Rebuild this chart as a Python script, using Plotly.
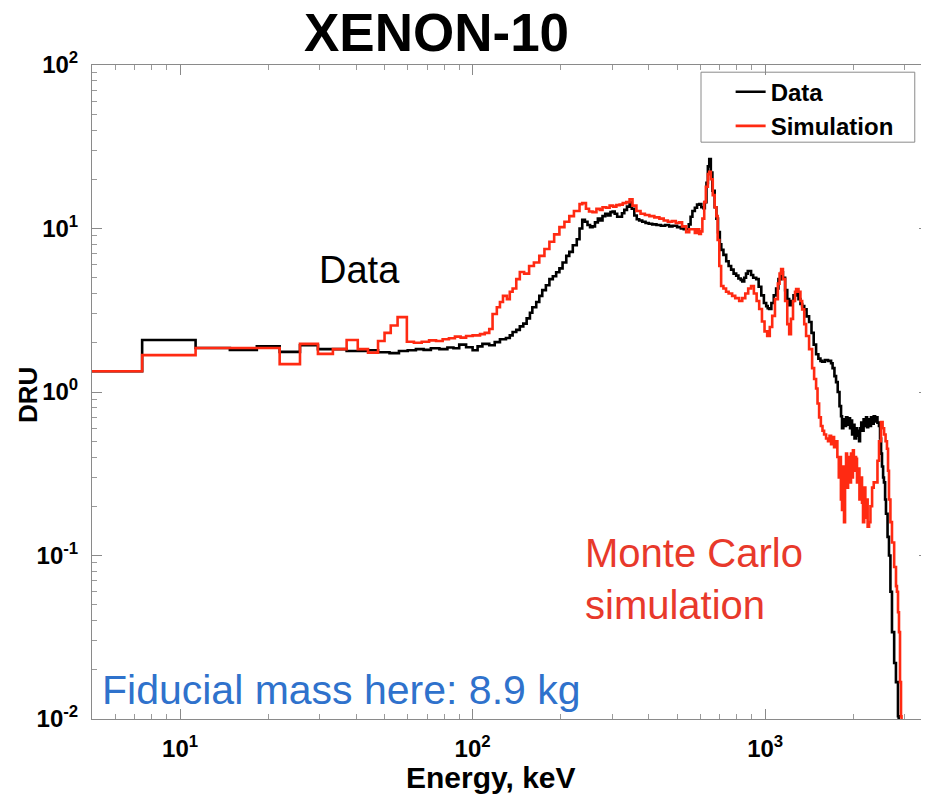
import plotly.graph_objects as go

# ---- Data (black) : energy [keV], rate [DRU] (step histogram) ----
data_energy = [5.0, 7.42, 11.3, 14.8, 18.3, 21.9, 25.7, 29.6, 37.1, 43.9, 47.5, 52, 56, 60, 64, 68, 72, 77, 82, 86,
               90, 95, 100, 104, 108, 114, 119, 124, 130, 134, 137, 141, 145, 149, 153, 157, 160, 165, 169, 173,
               178, 183, 188, 193, 198, 203, 209, 214, 220, 227, 232, 237, 242, 247, 252, 257, 262, 268, 273, 278,
               284, 290, 296, 301, 306, 312, 318, 324, 330, 337, 344, 350, 357, 364, 371, 380, 390, 400, 411, 425,
               440, 455, 470, 482, 500, 515, 527, 538, 548, 556, 564, 575, 585, 595, 605, 615, 622, 630, 637, 644,
               652, 660, 672, 681, 690, 700, 708, 720, 736, 750, 765, 780, 796, 810, 825, 835, 848, 860, 872, 882,
               895, 910, 932, 950, 970, 990, 1008, 1020, 1032, 1050, 1070, 1090, 1110, 1134, 1150, 1170, 1190, 1208,
               1230, 1250, 1276, 1300, 1320, 1338, 1360, 1385, 1413, 1440, 1465, 1493, 1520, 1545, 1565, 1600, 1640,
               1680, 1700, 1725, 1747, 1770, 1795, 1817, 1831, 1850, 1870, 1890, 1910, 1930, 1950, 1970, 1982, 2000,
               2020, 2045, 2060, 2080, 2094, 2110, 2130, 2150, 2170, 2190, 2212, 2230, 2250, 2275, 2300, 2325, 2350,
               2375, 2392, 2420, 2449, 2470, 2490, 2508, 2530, 2547, 2570, 2588, 2620, 2650, 2680, 2713, 2760, 2799,
               2844, 2860]
data_dru = [1.34, 2.08, 1.86, 1.81, 1.90, 1.76, 1.93, 1.83, 1.78, 1.80, 1.75, 1.73, 1.78, 1.80, 1.83, 1.81, 1.85, 1.83, 1.87, 1.85,
            1.95, 1.88, 1.80, 1.90, 1.97, 1.93, 2.02, 2.10, 2.14, 2.22, 2.33, 2.40, 2.52, 2.62, 2.82, 3.05, 3.30, 3.55, 3.87, 4.2,
            4.5, 4.9, 5.1, 5.4, 5.7, 6.2, 6.8, 7.2, 7.9, 8.6, 10.0, 11.3, 11.0, 10.5, 10.2, 10.3, 10.9, 11.5, 11.2, 11.9,
            12.3, 12.0, 12.6, 12.7, 12.3, 11.8, 11.8, 12.4, 13.0, 13.6, 14.4, 13.2, 12.0, 11.4, 11.2, 11.0, 10.8, 10.7, 10.6, 10.5,
            10.4, 10.5, 10.3, 10.4, 10.2, 10.0, 9.9, 9.9, 10.6, 11.8, 12.8, 13.4, 14.0, 14.1, 13.5, 13.3, 14.5, 19, 24, 26.6,
            22, 17, 13.5, 11.5, 9.5, 8.0, 7.4, 6.9, 6.3, 5.9, 5.6, 5.3, 5.15, 4.95, 4.85, 4.75, 5.0, 5.3, 5.5, 5.5,
            5.2, 5.0, 4.9, 4.4, 3.9, 3.5, 3.35, 3.25, 3.22, 3.5, 3.9, 4.3, 4.9, 5.4, 5.0, 4.2, 3.7, 3.4,
            3.6, 3.9, 4.05, 3.7, 3.45, 3.36, 3.2, 2.9, 2.68, 2.3, 1.95, 1.70, 1.60, 1.55, 1.53, 1.57, 1.55,
            1.50, 1.40, 1.25, 1.15, 1.0, 0.82, 0.71, 0.60, 0.68, 0.62, 0.70, 0.63, 0.69, 0.60, 0.67, 0.55, 0.63,
            0.52, 0.60, 0.54, 0.58, 0.50, 0.60, 0.65, 0.58, 0.68, 0.62, 0.70, 0.61, 0.68, 0.62, 0.70, 0.64, 0.71,
            0.66, 0.70, 0.65, 0.62, 0.52, 0.42, 0.35, 0.30, 0.28, 0.22, 0.18, 0.13, 0.10, 0.06, 0.034, 0.022, 0.0168,
            0.0104, 0.009]

# ---- Simulation (red) ----
sim_energy = [5.0, 7.42, 11.3, 21.9, 25.7, 29.6, 33.3, 37.1, 40.5, 43.9, 47.5, 50, 52.5, 55.4, 59.6, 63, 67, 71, 75, 79,
              83, 87, 91, 95, 100, 106, 110, 114, 117, 121, 124, 127, 131, 134, 137, 141, 145, 150, 156, 162,
              169, 176, 183, 190, 198, 206, 214, 222, 232, 237, 244, 250, 257, 265, 272, 278, 286, 294, 302, 310,
              318, 326, 335, 344, 352, 363, 375, 388, 402, 418, 435, 450, 465, 480, 495, 508, 520, 537, 550, 564,
              575, 585, 595, 603, 610, 619, 627, 637, 644, 652, 662, 672, 681, 688, 697, 707, 720, 735, 750, 771,
              790, 815, 835, 855, 875, 895, 915, 935, 954, 975, 995, 1016, 1037, 1057, 1080, 1105, 1120, 1134, 1150, 1170,
              1190, 1208, 1225, 1245, 1265, 1276, 1300, 1320, 1338, 1360, 1380, 1413, 1447, 1470, 1493, 1510, 1529, 1550,
              1570, 1590, 1615, 1640, 1660, 1680, 1700, 1720, 1747, 1765, 1785, 1800, 1815, 1831, 1845, 1860, 1875,
              1890, 1905, 1920, 1935, 1950, 1965, 1980, 1995, 2010, 2025, 2045, 2060, 2080, 2100, 2120, 2143, 2160,
              2180, 2200, 2220, 2240, 2265, 2290, 2320, 2350, 2392, 2420, 2450, 2488, 2520, 2550, 2580, 2608, 2630,
              2650, 2680, 2713, 2760, 2800, 2821, 2845, 2867, 2890, 2913, 2925]
sim_dru = [1.34, 1.68, 1.86, 1.48, 1.97, 1.71, 1.83, 2.08, 1.83, 1.74, 2.05, 2.30, 2.55, 2.87, 2.03, 2.00, 2.03, 2.07, 2.05, 2.10,
           2.13, 2.18, 2.15, 2.20, 2.22, 2.26, 2.30, 2.43, 3.0, 3.3, 3.55, 3.87, 3.7, 4.1, 4.3, 4.9, 5.42, 5.3, 5.9, 6.2,
           6.8, 7.5, 8.3, 9.2, 10.2, 11.0, 11.9, 12.8, 14.1, 14.3, 13.2, 12.7, 12.6, 13.2, 13.0, 13.5, 13.4, 13.8, 13.6, 13.9,
           14.0, 14.3, 14.5, 15.1, 13.8, 12.8, 12.3, 12.1, 11.9, 11.7, 11.5, 11.2, 11.0, 11.1, 10.8, 10.9, 10.3, 9.5, 9.9, 9.9,
           9.4, 9.9, 9.25, 9.6, 11.5, 14.5, 18, 21.5, 22.2, 20, 16, 13.5, 11.9, 8.5, 5.9, 4.45, 4.3, 4.1, 4.0, 3.87,
           3.75, 3.60, 3.75, 4.0, 4.3, 4.45, 4.0, 3.6, 3.22, 2.7, 2.35, 2.20, 2.5, 2.92, 3.7, 4.6, 5.3, 5.65, 4.9, 3.6,
           2.6, 2.26, 2.8, 3.6, 4.1, 4.27, 4.1, 3.6, 3.2, 2.6, 2.2, 1.83, 1.40, 1.2, 1.05, 0.85, 0.70, 0.62,
           0.58, 0.55, 0.52, 0.50, 0.54, 0.48, 0.53, 0.46, 0.50, 0.40, 0.30, 0.40, 0.22, 0.19, 0.35, 0.16, 0.30,
           0.42, 0.26, 0.40, 0.37, 0.28, 0.42, 0.30, 0.44, 0.33, 0.40, 0.39, 0.28, 0.34, 0.22, 0.30, 0.21, 0.16,
           0.26, 0.17, 0.22, 0.15, 0.16, 0.20, 0.26, 0.28, 0.28, 0.38, 0.50, 0.655, 0.60, 0.55, 0.50, 0.45, 0.33,
           0.22, 0.16, 0.12, 0.085, 0.065, 0.060, 0.045, 0.034, 0.0168, 0.0104, 0.009]

x_tickvals = [10, 100, 1000]
x_ticktext = ["10<sup>1</sup>", "10<sup>2</sup>", "10<sup>3</sup>"]
y_tickvals = [0.01, 0.1, 1, 10, 100]
y_ticktext = ["10<sup>-2</sup>", "10<sup>-1</sup>", "10<sup>0</sup>", "10<sup>1</sup>", "10<sup>2</sup>"]

RED = "#ff2a12"
NARROW = "Liberation Sans Narrow, Arial Narrow, Liberation Sans, Arial, sans-serif"
SANS = "Liberation Sans, Arial, Helvetica, sans-serif"
GRAY = "#8a8a8a"

fig = go.Figure()
fig.add_trace(go.Scatter(x=data_energy, y=data_dru, mode="lines", name="Data",
                         line=dict(color="black", width=2.6, shape="hv")))
fig.add_trace(go.Scatter(x=sim_energy, y=sim_dru, mode="lines", name="Simulation",
                         line=dict(color=RED, width=2.6, shape="hv")))

axis_common = dict(
    showline=True, linecolor=GRAY, linewidth=1, mirror="ticks",
    ticks="inside", ticklen=10, tickcolor=GRAY, tickwidth=1,
    showgrid=False, zeroline=False, automargin=False,
    tickfont=dict(family=NARROW, size=24, color="black", weight="bold"),
    minor=dict(ticks="inside", ticklen=5, tickcolor="#9a9a9a", dtick="D1", showgrid=False),
)

fig.update_xaxes(type="log", range=[0.699, 3.56], tickmode="array", tickvals=x_tickvals,
                 ticktext=x_ticktext, ticklabelstandoff=8, **axis_common)
fig.update_yaxes(type="log", range=[-2, 2], tickmode="array", tickvals=y_tickvals,
                 ticktext=y_ticktext, ticklabelstandoff=8, **axis_common)

# page body adds an 8px offset; figure is sized so the plot area lands where the reference has it
fig.update_layout(
    width=921, height=787,
    margin=dict(l=84, r=0, t=57, b=76),
    paper_bgcolor="white", plot_bgcolor="white",
    showlegend=True,
    legend=dict(x=0.763, y=0.993, xanchor="left", yanchor="top",
                borderwidth=0, bgcolor="rgba(0,0,0,0)",
                font=dict(family=SANS, size=24, color="black", weight="bold"),
                tracegroupgap=0),
    shapes=[dict(type="rect", xref="paper", yref="paper", x0=0.7276, x1=0.983, y0=0.882, y1=0.989,
                 line=dict(color=GRAY, width=1), fillcolor="rgba(0,0,0,0)", layer="above")],
    annotations=[
        dict(text="XENON-10", x=0.412, y=1.049, xref="paper", yref="paper", showarrow=False,
             xanchor="center", yanchor="middle",
             font=dict(family=SANS, size=53, color="black", weight="bold")),
        dict(text="Energy, keV", x=0.4767, y=-0.089, xref="paper", yref="paper", showarrow=False,
             xanchor="center", yanchor="middle",
             font=dict(family=NARROW, size=30, color="black", weight="bold")),
        dict(text="DRU", x=-0.0765, y=0.4954, xref="paper", yref="paper", showarrow=False,
             textangle=-90, xanchor="center", yanchor="middle",
             font=dict(family=NARROW, size=26, color="black", weight="bold")),
        dict(text="Data", x=0.320, y=0.6865, xref="paper", yref="paper", showarrow=False,
             xanchor="center", yanchor="middle",
             font=dict(family=SANS, size=38, color="black")),
        dict(text="Monte Carlo<br>simulation", x=0.5866, y=0.214, xref="paper", yref="paper",
             showarrow=False, xanchor="left", yanchor="middle", align="left",
             font=dict(family=SANS, size=40, color="#e8392b")),
        dict(text="Fiducial mass here: 8.9 kg", x=0.0096, y=0.0443, xref="paper", yref="paper",
             showarrow=False, xanchor="left", yanchor="middle",
             font=dict(family=SANS, size=41, color="#2f72cc")),
    ],
)

fig.write_html("out.html")
